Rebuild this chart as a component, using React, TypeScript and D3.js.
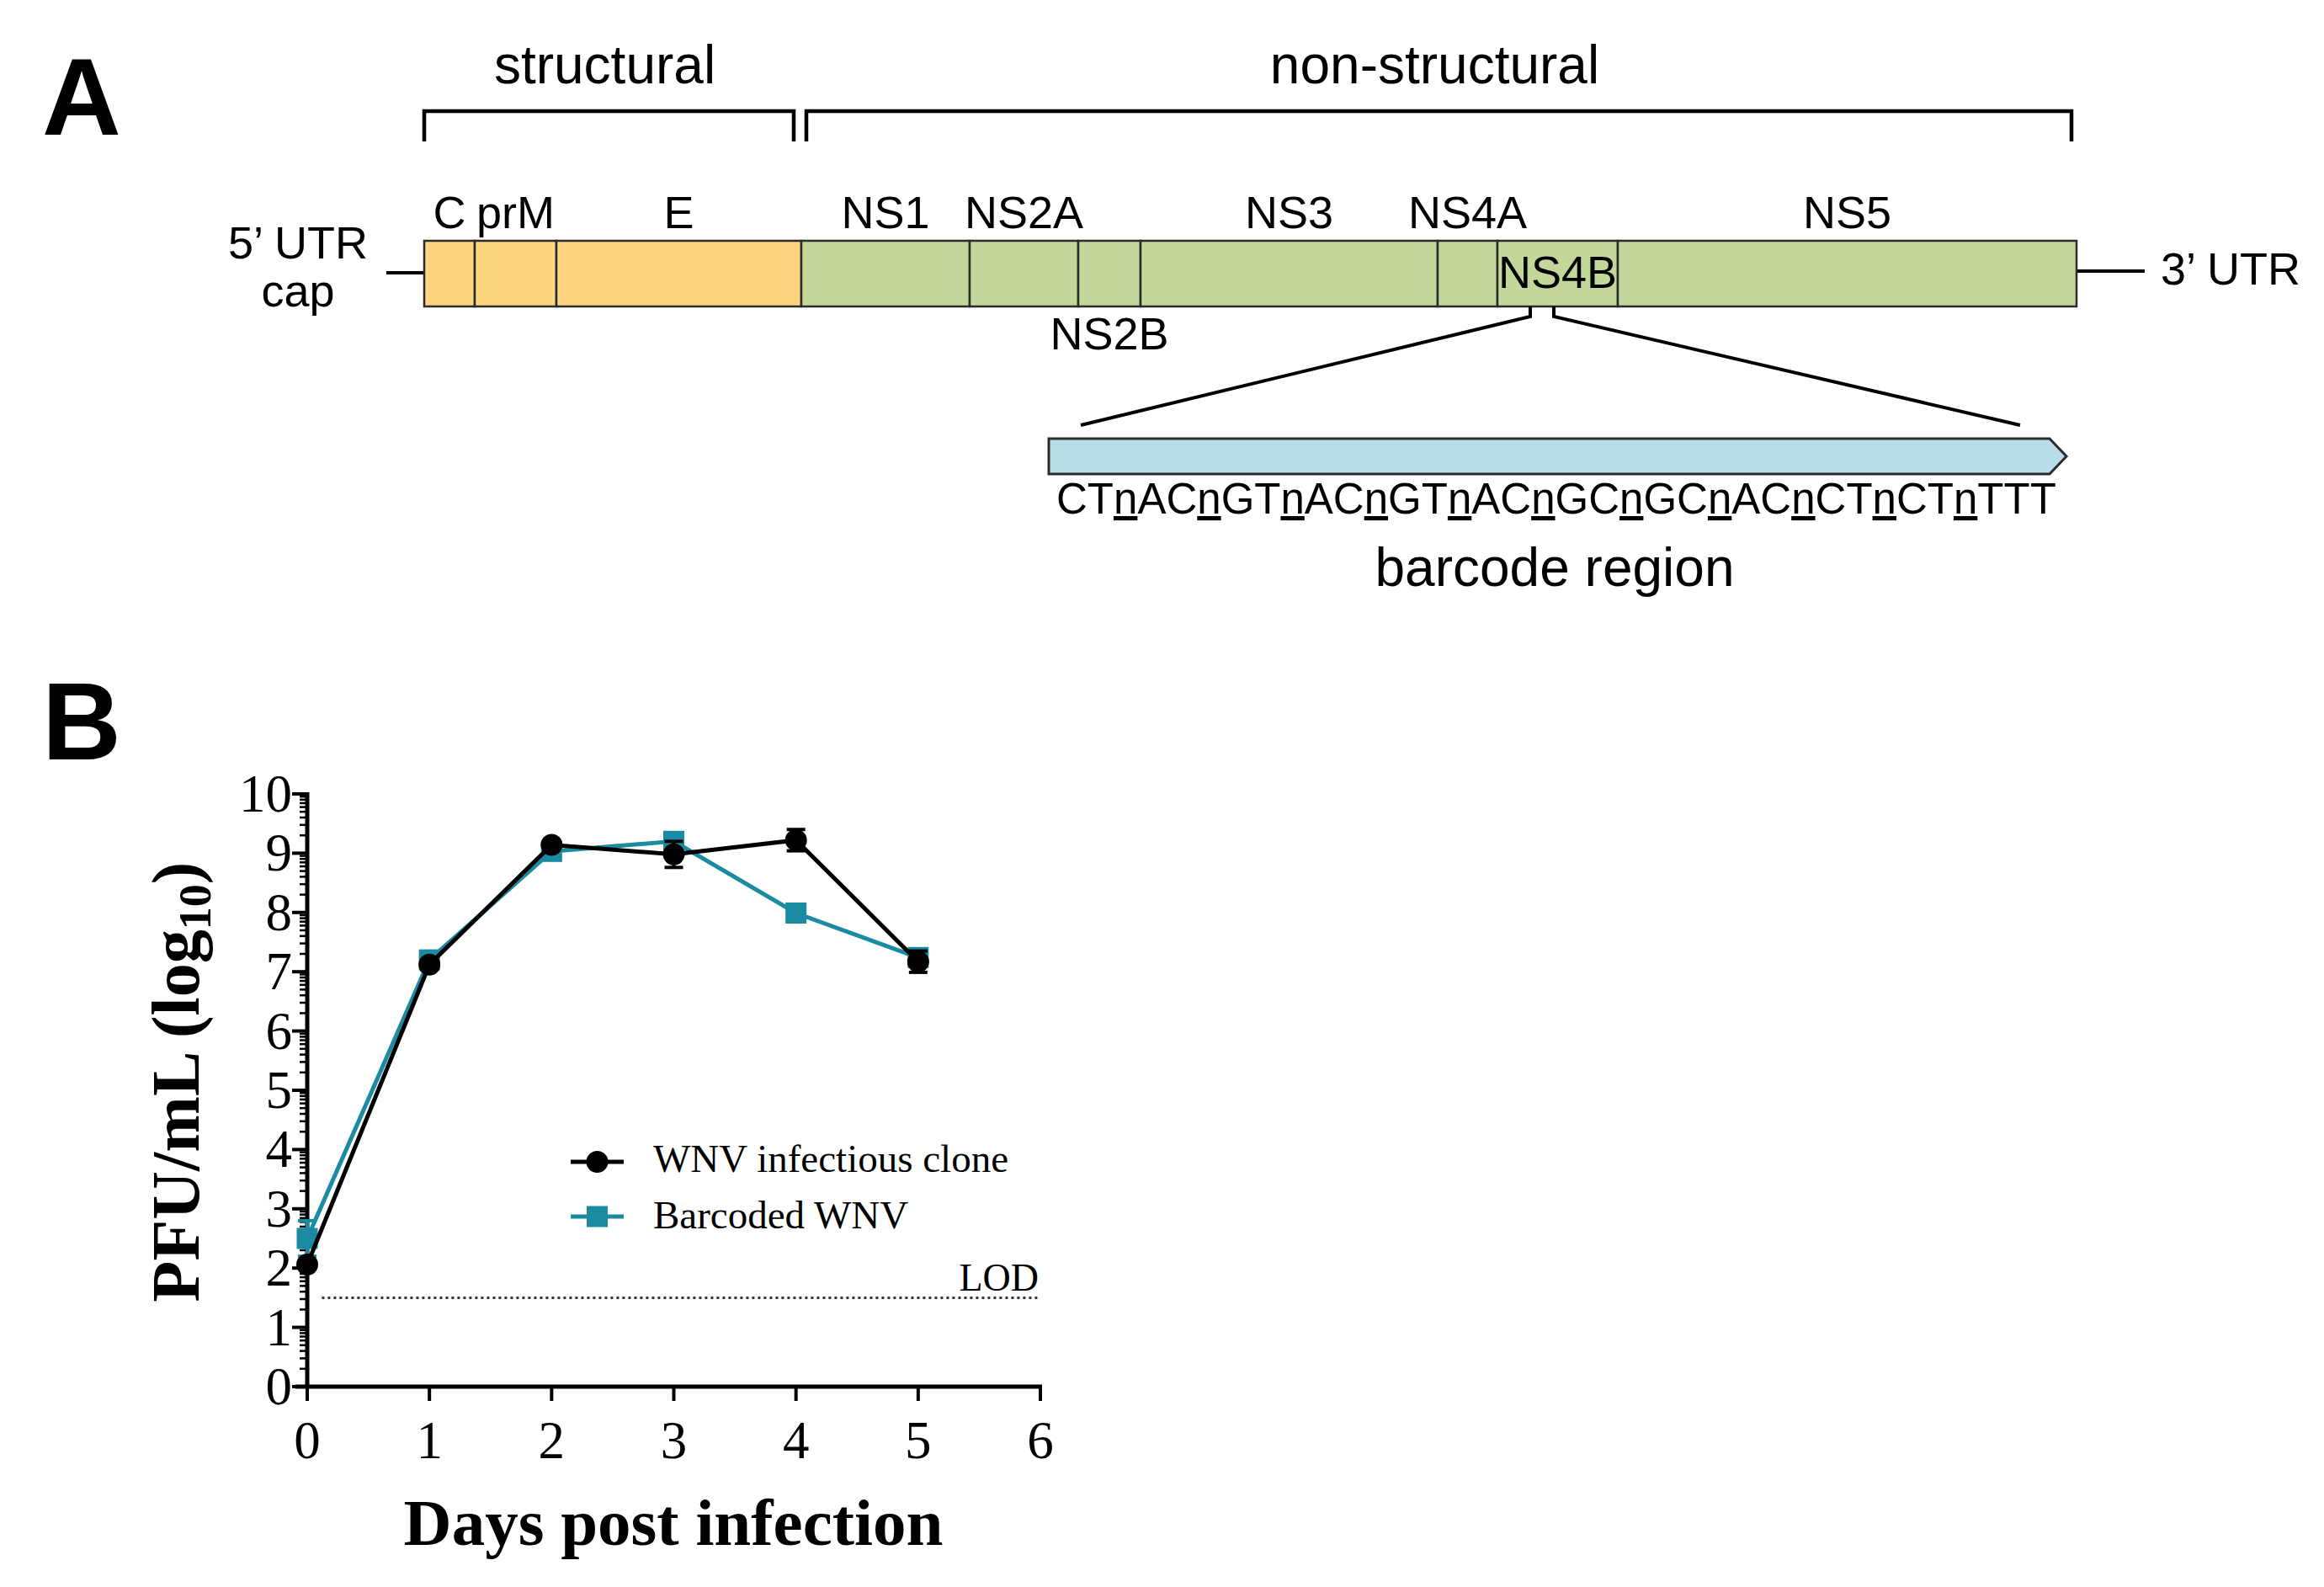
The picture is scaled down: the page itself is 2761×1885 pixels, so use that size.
import React from 'react';
import * as d3 from 'd3';

const W = 2761;
const H = 1885;

// ---------- Panel A data (schematic genome units) ----------
const segmentNames = ['C', 'prM', 'E', 'NS1', 'NS2A', 'NS2B', 'NS3', 'NS4A', 'NS4B', 'NS5'];
const segmentStarts = [0, 60, 157, 448, 648, 777, 851, 1204, 1275, 1418];
const segmentEnds = [60, 157, 448, 648, 777, 851, 1204, 1275, 1418, 1963];
const segmentKinds = ['s', 's', 's', 'n', 'n', 'n', 'n', 'n', 'n', 'n'];
const segmentLabelPos = ['above', 'above', 'above', 'above', 'above', 'below', 'above', 'above', 'inside', 'above'];
const bracketNames = ['structural', 'non-structural'];
const bracketStarts = [0, 454];
const bracketEnds = [439, 1957];
const barcodeSeq = 'CTnACnGTnACnGTnACnGCnGCnACnCTnCTnTTT';
const barcodeFocus = [1314, 1342];

// ---------- Panel B data ----------
const days = [0, 1, 2, 3, 4, 5];
const wnvClone = [2.06, 7.12, 9.14, 8.98, 9.22, 7.17];
const wnvCloneErr = [0.05, 0.08, 0.06, 0.22, 0.18, 0.18];
const barcoded = [2.5, 7.2, 9.03, 9.2, 7.99, 7.24];
const barcodedErr = [0.3, 0.08, 0.06, 0.05, 0.08, 0.08];
const yTicks = [0, 1, 2, 3, 4, 5, 6, 7, 8, 9, 10];
const xTicks = [0, 1, 2, 3, 4, 5, 6];
const LOD = 1.5;
const seriesNames = ['WNV infectious clone', 'Barcoded WNV'];

const ORANGE = '#FED57F';
const GREEN = '#C4D79B';
const BLUE = '#B7DEE8';
const TEAL = '#1A8BA0';
const SANS = '"Liberation Sans", Arial, sans-serif';
const SERIF = '"Liberation Serif", "Times New Roman", serif';

function PanelA() {
  const gx = d3.scaleLinear().domain([0, 1963]).range([504, 2467]);
  const boxTop = 286;
  const boxBot = 364;
  const boxMid = (boxTop + boxBot) / 2;
  const brY = 132;
  const brTick = 168;
  const labelFs = 54;
  // barcode arrow
  const arrL = 1246, arrR = 2435, arrTip = 2455, arrT = 521, arrB = 563;
  const zoomL = 1284, zoomR = 2400, zoomY = 505, zoomKnee = 376;
  const chars = barcodeSeq.split('');
  return (
    <g>
      <text x={50} y={160} fontFamily={SANS} fontWeight="bold" fontSize={130}>A</text>
      {/* brackets */}
      {bracketNames.map((n, i) => {
        const x0 = gx(bracketStarts[i]);
        const x1 = gx(bracketEnds[i]);
        return (
          <g key={n}>
            <path d={`M${x0},${brTick} V${brY} H${x1} V${brTick}`} fill="none" stroke="#000" strokeWidth={4.5} />
            <text x={(x0 + x1) / 2 - 5} y={99} textAnchor="middle" fontFamily={SANS} fontSize={64}>{n}</text>
          </g>
        );
      })}
      {/* UTR lines */}
      <line x1={459} x2={gx(0)} y1={boxMid - 1} y2={boxMid - 1} stroke="#000" strokeWidth={4} />
      <line x1={gx(1963)} x2={2548} y1={boxMid - 3} y2={boxMid - 3} stroke="#000" strokeWidth={4} />
      <text x={354} y={307} textAnchor="middle" fontFamily={SANS} fontSize={labelFs}>5’ UTR</text>
      <text x={354} y={364} textAnchor="middle" fontFamily={SANS} fontSize={labelFs}>cap</text>
      <text x={2567} y={338} fontFamily={SANS} fontSize={labelFs}>3’ UTR</text>
      {/* segments */}
      {segmentNames.map((n, i) => {
        const x0 = gx(segmentStarts[i]);
        const x1 = gx(segmentEnds[i]);
        const cx = (x0 + x1) / 2;
        const pos = segmentLabelPos[i];
        const ly = pos === 'above' ? 271 : pos === 'below' ? 415 : 342;
        return (
          <g key={n}>
            <rect x={x0} y={boxTop} width={x1 - x0} height={boxBot - boxTop}
              fill={segmentKinds[i] === 's' ? ORANGE : GREEN} stroke="#2b2b2b" strokeWidth={2.5} />
            <text x={cx} y={ly} textAnchor="middle" fontFamily={SANS} fontSize={labelFs}>{n}</text>
          </g>
        );
      })}
      {/* zoom lines */}
      <path d={`M${gx(barcodeFocus[0])},${boxBot} V${zoomKnee} L${zoomL},${zoomY}`} fill="none" stroke="#000" strokeWidth={4} />
      <path d={`M${gx(barcodeFocus[1])},${boxBot} V${zoomKnee} L${zoomR},${zoomY}`} fill="none" stroke="#000" strokeWidth={4} />
      {/* barcode arrow */}
      <path d={`M${arrL},${arrT} H${arrR} L${arrTip},${(arrT + arrB) / 2} L${arrR},${arrB} H${arrL} Z`}
        fill={BLUE} stroke="#2b2b2b" strokeWidth={3} />
      <text x={1255} y={610} fontFamily={SANS} fontSize={51}>
        {chars.map((c, i) => (
          <tspan key={i} style={c === 'n' ? { textDecoration: 'underline' } : undefined}>{c}</tspan>
        ))}
      </text>
      <text x={1847} y={696} textAnchor="middle" fontFamily={SANS} fontSize={64}>barcode region</text>
    </g>
  );
}

function PanelB() {
  const x = d3.scaleLinear().domain([0, 6]).range([365, 1236]);
  const y = d3.scaleLinear().domain([0, 10]).range([1647, 943]);
  const minor: number[] = [];
  for (let d = 0; d < 10; d++) for (let k = 2; k <= 9; k++) minor.push(d + Math.log10(k));
  const line = d3.line<number>().x((_, i) => x(days[i])).y((v) => y(v));
  const errBars = (vals: number[], errs: number[], color: string) =>
    vals.map((v, i) => (
      <g key={i} stroke={color} strokeWidth={4}>
        <line x1={x(days[i])} x2={x(days[i])} y1={y(v - errs[i])} y2={y(v + errs[i])} />
        <line x1={x(days[i]) - 11} x2={x(days[i]) + 11} y1={y(v - errs[i])} y2={y(v - errs[i])} />
        <line x1={x(days[i]) - 11} x2={x(days[i]) + 11} y1={y(v + errs[i])} y2={y(v + errs[i])} />
      </g>
    ));
  const legX = 678, legX2 = 741, legY = [1380, 1445];
  return (
    <g>
      <text x={50} y={902} fontFamily={SANS} fontWeight="bold" fontSize={130}>B</text>
      {/* LOD */}
      <line x1={x(0.12)} x2={x(5.98)} y1={y(LOD)} y2={y(LOD)} stroke="#333" strokeWidth={3} strokeDasharray="3,4" />
      <text x={1234} y={1533} textAnchor="end" fontFamily={SERIF} fontSize={46}>LOD</text>
      {/* axes */}
      <line x1={351} x2={x(6) + 2} y1={y(0)} y2={y(0)} stroke="#000" strokeWidth={5} />
      <line x1={x(0)} x2={x(0)} y1={y(10) - 2} y2={y(0) + 2} stroke="#000" strokeWidth={5} />
      {yTicks.map((t) => (
        <g key={t}>
          <line x1={x(0) - 18} x2={x(0)} y1={y(t)} y2={y(t)} stroke="#000" strokeWidth={4} />
          <text x={347} y={y(t) + 21} textAnchor="end" fontFamily={SERIF} fontSize={63}>{t}</text>
        </g>
      ))}
      {minor.map((m, i) => (
        <line key={i} x1={x(0) - 9} x2={x(0)} y1={y(m)} y2={y(m)} stroke="#000" strokeWidth={2.5} />
      ))}
      {xTicks.map((t) => (
        <g key={t}>
          <line x1={x(t)} x2={x(t)} y1={y(0)} y2={y(0) + 17} stroke="#000" strokeWidth={4} />
          <text x={x(t)} y={1732} textAnchor="middle" fontFamily={SERIF} fontSize={63}>{t}</text>
        </g>
      ))}
      <text x={800} y={1835} textAnchor="middle" fontFamily={SERIF} fontWeight="bold" fontSize={79}>Days post infection</text>
      <text transform="translate(236,1285) rotate(-90)" textAnchor="middle" fontFamily={SERIF} fontWeight="bold" fontSize={80}>
        PFU/mL (log<tspan fontSize={54} dy={14}>10</tspan><tspan dy={-14}>)</tspan>
      </text>
      {/* series: barcoded (teal) under clone (black) */}
      {errBars(barcoded, barcodedErr, TEAL)}
      <path d={line(barcoded) || ''} fill="none" stroke={TEAL} strokeWidth={5} />
      {barcoded.map((v, i) => (
        <rect key={i} x={x(days[i]) - 12.5} y={y(v) - 12.5} width={25} height={25} fill={TEAL} />
      ))}
      {errBars(wnvClone, wnvCloneErr, '#000')}
      <path d={line(wnvClone) || ''} fill="none" stroke="#000" strokeWidth={5} />
      {wnvClone.map((v, i) => (
        <circle key={i} cx={x(days[i])} cy={y(v)} r={13} fill="#000" />
      ))}
      {/* legend */}
      <line x1={legX} x2={legX2} y1={legY[0]} y2={legY[0]} stroke="#000" strokeWidth={5} />
      <circle cx={(legX + legX2) / 2} cy={legY[0]} r={13} fill="#000" />
      <text x={776} y={1392} fontFamily={SERIF} fontSize={47}>{seriesNames[0]}</text>
      <line x1={legX} x2={legX2} y1={legY[1]} y2={legY[1]} stroke={TEAL} strokeWidth={5} />
      <rect x={(legX + legX2) / 2 - 12.5} y={legY[1] - 12.5} width={25} height={25} fill={TEAL} />
      <text x={776} y={1459} fontFamily={SERIF} fontSize={47}>{seriesNames[1]}</text>
    </g>
  );
}

export default function App() {
  return (
    <svg width={W} height={H} viewBox={`0 0 ${W} ${H}`}
      style={{ position: 'absolute', left: 0, top: 0, display: 'block', background: '#fff' }}>
      <rect x={0} y={0} width={W} height={H} fill="#fff" />
      <PanelA />
      <PanelB />
    </svg>
  );
}
